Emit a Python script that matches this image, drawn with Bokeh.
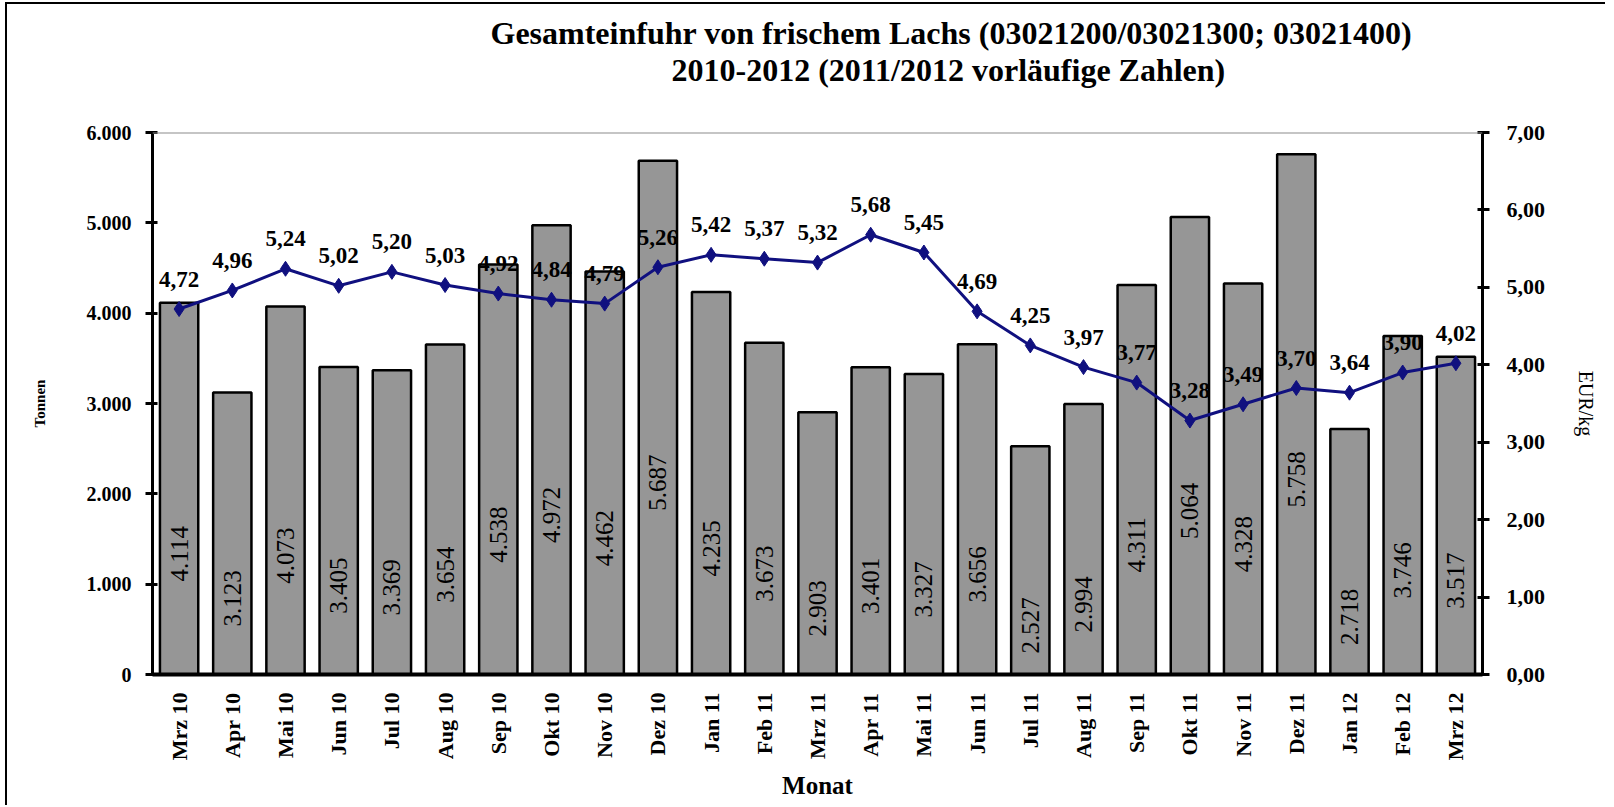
from bokeh.plotting import figure
from bokeh.models import (ColumnDataSource, FactorRange, Range1d, LinearAxis, Title,
                          FixedTicker, Span)
from bokeh.core.properties import value
from bokeh.embed import file_html
from bokeh.resources import INLINE

months = ["Mrz 10", "Apr 10", "Mai 10", "Jun 10", "Jul 10", "Aug 10", "Sep 10", "Okt 10",
          "Nov 10", "Dez 10", "Jan 11", "Feb 11", "Mrz 11", "Apr 11", "Mai 11", "Jun 11",
          "Jul 11", "Aug 11", "Sep 11", "Okt 11", "Nov 11", "Dez 11", "Jan 12", "Feb 12", "Mrz 12"]
tonnen = [4114, 3123, 4073, 3405, 3369, 3654, 4538, 4972, 4462, 5687, 4235, 3673, 2903,
          3401, 3327, 3656, 2527, 2994, 4311, 5064, 4328, 5758, 2718, 3746, 3517]
eur_kg = [4.72, 4.96, 5.24, 5.02, 5.20, 5.03, 4.92, 4.84, 4.79, 5.26, 5.42, 5.37, 5.32,
          5.68, 5.45, 4.69, 4.25, 3.97, 3.77, 3.28, 3.49, 3.70, 3.64, 3.90, 4.02]
left_ticks = [0, 1000, 2000, 3000, 4000, 5000, 6000]
left_tick_labels = ["0", "1.000", "2.000", "3.000", "4.000", "5.000", "6.000"]
right_ticks = [0, 1, 2, 3, 4, 5, 6, 7]
right_tick_labels = ["0,00", "1,00", "2,00", "3,00", "4,00", "5,00", "6,00", "7,00"]

title1 = "Gesamteinfuhr von frischem Lachs (03021200/03021300; 03021400)"
title2 = "2010-2012 (2011/2012 vorläufige Zahlen)"

SERIF = "Liberation Serif"

src = ColumnDataSource(dict(
    m=months, t=tonnen, e=eur_kg,
    tlab=[f"{v:,}".replace(",", ".") for v in tonnen],
    tpos=[v / 2 - 720 for v in tonnen],
    elab=[f"{v:.2f}".replace(".", ",") for v in eur_kg],
))

W, H = 1600, 803
X0, Y0 = 9, 4
FL, FR, FT, FB = 154, 1484, 132, 674
p = figure(x_range=FactorRange(*months, range_padding=0), y_range=Range1d(0, 6000),
           width=W, height=H, output_backend="svg", toolbar_location=None,
           min_border_left=FL - X0, min_border_right=X0 + W - FR,
           min_border_top=FT - Y0, min_border_bottom=Y0 + H - FB)
p.styles = {"border-left": "2px solid black", "border-top": "2px solid black",
            "margin-left": "5px", "margin-top": "2px"}
p.outline_line_color = None
p.xgrid.grid_line_color = None
p.ygrid.grid_line_color = None
p.background_fill_color = "white"

p.extra_y_ranges = {"eur": Range1d(0, 7)}

# titles: spacer panel next to the frame, then line 2, then line 1
spacer = Title(text=" ", text_font_size="1px", standoff=42, text_color="white")
t2 = Title(text=title2, align="left", offset=673 - FL, text_font=SERIF,
           text_font_size="32px", text_font_style="bold", standoff=-1, text_color="black")
t1 = Title(text=title1, align="left", offset=492 - FL, text_font=SERIF,
           text_font_size="32px", text_font_style="bold", standoff=-1, text_color="black")
p.add_layout(spacer, "above")
p.add_layout(t2, "above")
p.add_layout(t1, "above")

# top grey line
p.add_layout(Span(location=6000, dimension="width", line_color="#8c8c8c", line_width=2))

# bars
p.vbar(x="m", top="t", width=0.72, source=src, fill_color="#969696",
       line_color="black", line_width=2.5)
p.text(x="m", y="tpos", text="tlab", source=src, angle=1.5708, text_align="center",
       text_baseline="middle", text_font=value(SERIF), text_font_size="25px",
       text_color="black")

# line
p.line(x="m", y="e", source=src, y_range_name="eur", line_color="#10107f", line_width=3)
p.scatter(x="m", y="e", source=src, y_range_name="eur", marker="diamond", size=15,
          fill_color="#10107f", line_color="#10107f")
p.text(x="m", y="e", text="elab", source=src, y_range_name="eur", y_offset=-30,
       text_align="center", text_baseline="middle", text_font=value(SERIF),
       text_font_size="23px", text_font_style="bold", text_color="black")

# left axis
ya = p.yaxis[0]
ya.ticker = FixedTicker(ticks=left_ticks)
ya.major_label_overrides = {t: l for t, l in zip(left_ticks, left_tick_labels)}
ya.axis_label = "Tonnen"
ya.axis_label_text_font = SERIF
ya.axis_label_text_font_size = "15px"
ya.axis_label_text_font_style = "bold"
ya.axis_label_text_color = "black"
ya.axis_label_standoff = 36
ya.major_label_text_font = SERIF
ya.major_label_text_font_size = "20px"
ya.major_label_text_font_style = "bold"
ya.major_label_text_color = "black"
ya.major_label_standoff = 14
ya.axis_line_width = 3
ya.major_tick_line_width = 3
ya.major_tick_in = 5
ya.major_tick_out = 7
ya.minor_tick_line_color = None

# right axis
ra = LinearAxis(y_range_name="eur", ticker=FixedTicker(ticks=right_ticks))
ra.major_label_overrides = {t: l for t, l in zip(right_ticks, right_tick_labels)}
ra.axis_label = "EUR/kg"
ra.axis_label_text_font = SERIF
ra.axis_label_text_font_size = "20px"
ra.axis_label_text_font_style = "normal"
ra.axis_label_text_color = "black"
ra.axis_label_standoff = 27
ra.major_label_text_font = SERIF
ra.major_label_text_font_size = "22px"
ra.major_label_text_font_style = "bold"
ra.major_label_text_color = "black"
ra.major_label_standoff = 17
ra.axis_line_width = 3
ra.major_tick_line_width = 3
ra.major_tick_in = 5
ra.major_tick_out = 7
ra.minor_tick_line_color = None
p.add_layout(ra, "right")

# x axis
xa = p.xaxis[0]
xa.axis_label = "Monat"
xa.axis_label_text_font = SERIF
xa.axis_label_text_font_size = "25px"
xa.axis_label_text_font_style = "bold"
xa.axis_label_text_color = "black"
xa.axis_label_standoff = 9
xa.major_label_orientation = 1.5708
xa.major_label_text_font = SERIF
xa.major_label_text_font_size = "22px"
xa.major_label_text_font_style = "bold"
xa.major_label_text_color = "black"
xa.major_label_standoff = 12
xa.axis_line_width = 4
xa.major_tick_line_color = None
xa.minor_tick_line_color = None

open("out.html", "w").write(file_html(p, INLINE))
